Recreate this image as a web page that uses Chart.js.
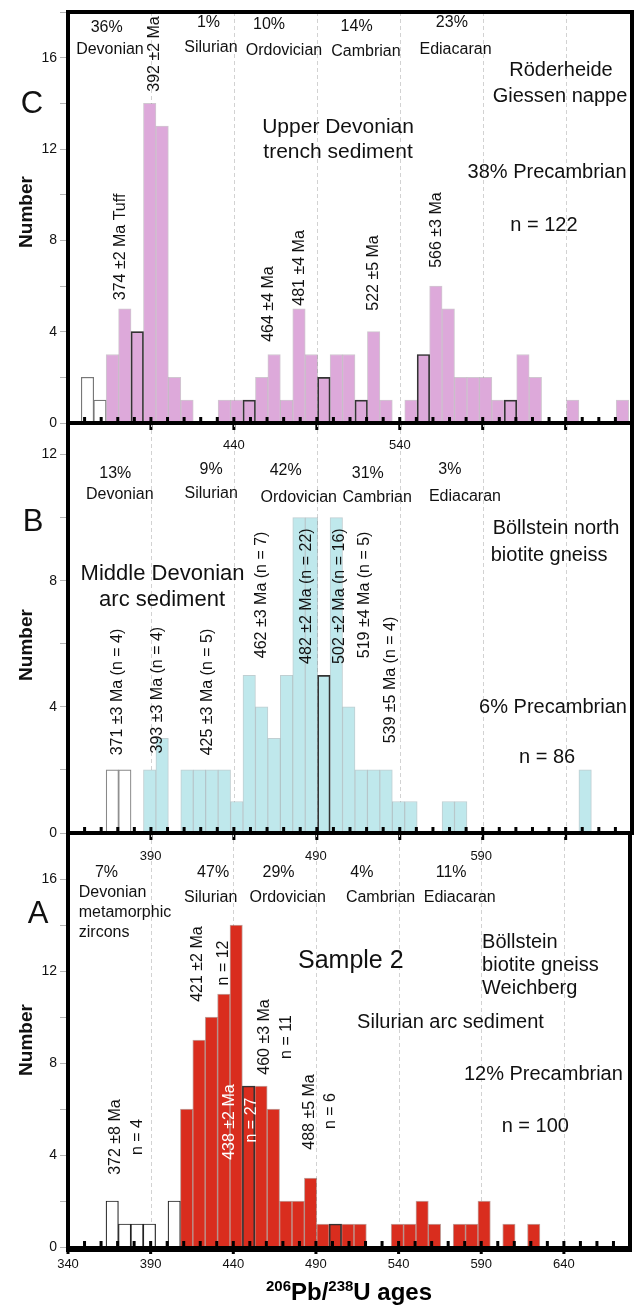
<!DOCTYPE html>
<html>
<head>
<meta charset="utf-8">
<title>U-Pb detrital zircon histograms</title>
<script src="https://cdn.jsdelivr.net/npm/chart.js@4.4.0/dist/chart.umd.min.js"></script>
<style>
  html, body { margin: 0; padding: 0; background: #fff; }
  #wrap { position: relative; width: 640px; height: 1307px; }
  #wrap canvas { position: absolute; left: 0; top: 0; }
</style>
</head>
<body>
<div id="wrap">
  <canvas id="chartC" width="640" height="1307"></canvas>
  <canvas id="chartB" width="640" height="1307"></canvas>
  <canvas id="chartA" width="640" height="1307"></canvas>
</div>
<script>
const FONT = '"Liberation Sans", Arial, Helvetica, sans-serif';

// 7.5 Ma bins, centre ages (Ma)
const binCenters = [
  351.75, 359.25, 366.75, 374.25, 381.75, 389.25, 396.75, 404.25, 411.75, 419.25,
  426.75, 434.25, 441.75, 449.25, 456.75, 464.25, 471.75, 479.25, 486.75, 494.25,
  501.75, 509.25, 516.75, 524.25, 531.75, 539.25, 546.75, 554.25, 561.75, 569.25,
  576.75, 584.25, 591.75, 599.25, 606.75, 614.25, 621.75, 629.25, 636.75, 644.25,
  651.75, 659.25, 666.75, 674.25
];

const xTickLabels = [340, 390, 440, 490, 540, 590, 640];

// C - Röderheide, Giessen nappe
const countsC = [0,0,3,5,4,14,13,2,1,0, 0,1,1,1,2,3,1,5,3,2, 3,3,1,4,1,0,1,3,6,5, 2,2,2,1,1,3,2,0,0,1, 0,0,0,1];
const openC   = [2,1,0,0,0,0,0,0,0,0, 0,0,0,0,0,0,0,0,0,0, 0,0,0,0,0,0,0,0,0,0, 0,0,0,0,0,0,0,0,0,0, 0,0,0,0];
const edgeC   = [0,0,0,0,4,0,0,0,0,0, 0,0,0,1,0,0,0,0,0,2, 0,0,1,0,0,0,0,3,0,0, 0,0,0,0,1,0,0,0,0,0, 0,0,0,0];

// B - Böllstein north
const countsB = [0,0,0,0,0,2,3,0,2,2, 2,2,1,5,4,3,5,10,10,5, 10,4,2,2,2,1,1,0,0,1, 1,0,0,0,0,0,0,0,0,0, 2,0,0,0];
const openB   = [0,0,2,2,0,0,0,0,0,0, 0,0,0,0,0,0,0,0,0,0, 0,0,0,0,0,0,0,0,0,0, 0,0,0,0,0,0,0,0,0,0, 0,0,0,0];
const edgeB   = [0,0,0,0,0,0,0,0,0,0, 0,0,0,0,0,0,0,0,0,5, 0,0,0,0,0,0,0,0,0,0, 0,0,0,0,0,0,0,0,0,0, 0,0,0,0];

// A - Böllstein, Weichberg (sample 2)
const countsA = [0,0,0,0,0,0,0,0,6,9, 10,11,14,7,7,6,2,2,3,1, 1,1,1,0,0,1,1,2,1,0, 1,1,2,0,1,0,1,0,0,0, 0,0,0,0];
const openA   = [0,0,2,1,1,1,0,2,0,0, 0,0,0,0,0,0,0,0,0,0, 0,0,0,0,0,0,0,0,0,0, 0,0,0,0,0,0,0,0,0,0, 0,0,0,0];
const edgeA   = [0,0,0,0,0,0,0,0,0,0, 0,0,0,7,0,0,0,0,0,0, 1,0,0,0,0,0,0,0,0,0, 0,0,0,0,0,0,0,0,0,0, 0,0,0,0];

const noteStyles = {
  per:    { size: 16 },
  big:    { size: 20 },
  mid:    { size: 21 },
  wide:   { size: 22 },
  bigL:   { size: 20, align: 'left' },
  left:   { size: 16, align: 'left' },
  rot:    { size: 16, rot: true },
  rotW:   { size: 16, rot: true, color: '#fff' },
  tick:   { size: 13 },
  huge:   { size: 25 },
  letter: { size: 31 },
  ylab:   { size: 19, bold: true, rot: true }
};

// [text, age (Ma), count, style]
const notesC = [
  ['36%', 363.3, 17.30, 'per'], ['Devonian', 365.3, 16.34, 'per'],
  ['1%', 424.7, 17.52, 'per'], ['Silurian', 426.2, 16.43, 'per'],
  ['10%', 461.2, 17.43, 'per'], ['Ordovician', 470.2, 16.29, 'per'],
  ['14%', 514.0, 17.35, 'per'], ['Cambrian', 519.6, 16.25, 'per'],
  ['23%', 571.4, 17.52, 'per'], ['Ediacaran', 573.6, 16.34, 'per'],
  ['392 ±2 Ma', 392.4, 16.16, 'rot'],
  ['Röderheide', 637.2, 15.46, 'big'], ['Giessen nappe', 636.6, 14.28, 'big'],
  ['Upper Devonian', 502.8, 12.97, 'mid'], ['trench sediment', 502.8, 11.87, 'mid'],
  ['38% Precambrian', 628.8, 10.95, 'big'], ['n = 122', 626.9, 8.67, 'big'],
  ['374 ±2 Ma Tuff', 372.0, 7.71, 'rot'],
  ['464 ±4 Ma', 461.2, 5.21, 'rot'], ['481 ±4 Ma', 479.9, 6.79, 'rot'],
  ['522 ±5 Ma', 524.5, 6.57, 'rot'], ['566 ±3 Ma', 562.4, 8.45, 'rot'],
  ['C', 318.3, 13.97, 'letter'], ['Number', 315.3, 9.24, 'ylab']
];

const notesB = [
  ['440', 440, 12.3, 'tick'], ['540', 540, 12.3, 'tick'],
  ['13%', 368.5, 11.41, 'per'], ['Devonian', 371.2, 10.72, 'per'],
  ['9%', 426.3, 11.51, 'per'], ['Silurian', 426.3, 10.75, 'per'],
  ['42%', 471.2, 11.48, 'per'], ['Ordovician', 479.1, 10.65, 'per'],
  ['31%', 520.7, 11.41, 'per'], ['Cambrian', 526.4, 10.65, 'per'],
  ['3%', 570.2, 11.51, 'per'], ['Ediacaran', 579.3, 10.68, 'per'],
  ['Böllstein north', 634.2, 9.67, 'big'], ['biotite gneiss', 630.0, 8.81, 'big'],
  ['Middle Devonian', 397.0, 8.21, 'wide'], ['arc sediment', 396.7, 7.39, 'wide'],
  ['371 ±3 Ma (n = 4)', 370.0, 4.47, 'rot'], ['393 ±3 Ma (n = 4)', 394.1, 4.53, 'rot'],
  ['425 ±3 Ma (n = 5)', 424.0, 4.47, 'rot'], ['462 ±3 Ma (n = 7)', 456.7, 7.55, 'rot'],
  ['482 ±2 Ma (n = 22)', 483.7, 7.51, 'rot'], ['502 ±2 Ma (n = 16)', 503.9, 7.51, 'rot'],
  ['519 ±4 Ma (n = 5)', 518.5, 7.55, 'rot'], ['539 ±5 Ma (n = 4)', 534.2, 4.85, 'rot'],
  ['6% Precambrian', 632.4, 3.99, 'big'], ['n = 86', 628.8, 2.38, 'big'],
  ['B', 318.9, 9.86, 'letter'], ['Number', 315.3, 5.96, 'ylab']
];

const notesA = [
  ['390', 390, 17.0, 'tick'], ['490', 490, 17.0, 'tick'], ['590', 590, 17.0, 'tick'],
  ['7%', 363.3, 16.26, 'per'],
  ['Devonian', 346.5, 15.39, 'left'], ['metamorphic', 346.5, 14.52, 'left'], ['zircons', 346.5, 13.65, 'left'],
  ['47%', 427.8, 16.26, 'per'], ['Silurian', 426.3, 15.17, 'per'],
  ['29%', 467.4, 16.26, 'per'], ['Ordovician', 472.9, 15.17, 'per'],
  ['4%', 517.8, 16.26, 'per'], ['Cambrian', 529.1, 15.17, 'per'],
  ['11%', 571.8, 16.26, 'per'], ['Ediacaran', 577.0, 15.17, 'per'],
  ['Böllstein', 590.5, 13.26, 'bigL'], ['biotite gneiss', 590.5, 12.26, 'bigL'], ['Weichberg', 590.5, 11.22, 'bigL'],
  ['Sample 2', 511.1, 12.43, 'huge'],
  ['Silurian arc sediment', 571.4, 9.78, 'big'],
  ['421 ±2 Ma', 418.4, 12.30, 'rot'], ['n = 12', 434.2, 12.35, 'rot'],
  ['460 ±3 Ma', 458.9, 9.13, 'rot'], ['n = 11', 472.0, 9.13, 'rot'],
  ['12% Precambrian', 627.6, 7.52, 'big'], ['n = 100', 622.7, 5.26, 'big'],
  ['372 ±8 Ma', 368.5, 4.78, 'rot'], ['n = 4', 382.4, 4.78, 'rot'],
  ['438 ±2 Ma', 437.5, 5.43, 'rotW'], ['n = 27', 451.0, 5.52, 'rotW'],
  ['488 ±5 Ma', 486.3, 5.87, 'rot'], ['n = 6', 498.9, 5.91, 'rot'],
  ['A', 321.9, 14.48, 'letter'], ['Number', 315.3, 9.0, 'ylab']
];

function toXY(arr) {
  return arr.map((v, i) => ({ x: binCenters[i], y: v }));
}

function drawXTitle(ctx, cx, baseY) {
  const parts = [['206', true], ['Pb/', false], ['238', true], ['U ages', false]];
  const fontOf = sup => 'bold ' + (sup ? 15 : 24) + 'px ' + FONT;
  let w = 0;
  parts.forEach(([t, sup]) => { ctx.font = fontOf(sup); w += ctx.measureText(t).width; });
  let px = cx - w / 2;
  ctx.fillStyle = '#000';
  ctx.textAlign = 'left';
  ctx.textBaseline = 'alphabetic';
  parts.forEach(([t, sup]) => {
    ctx.font = fontOf(sup);
    ctx.fillText(t, px, baseY - (sup ? 9 : 0));
    px += ctx.measureText(t).width;
  });
}

const panelDecor = {
  id: 'panelDecor',
  beforeDatasetsDraw(chart) {
    const { ctx, chartArea: a, scales: { x } } = chart;
    ctx.save();
    ctx.strokeStyle = '#d2d2d2';
    ctx.lineWidth = 1;
    ctx.setLineDash([4, 3]);
    xTickLabels.forEach(v => {
      if (v === 340) return;
      const px = Math.round(x.getPixelForValue(v)) + 0.5;
      ctx.beginPath();
      ctx.moveTo(px, a.top);
      ctx.lineTo(px, a.bottom);
      ctx.stroke();
    });
    ctx.restore();
  },
  afterDatasetsDraw(chart, args, o) {
    const { ctx, chartArea: a, scales: { x, y } } = chart;
    ctx.save();
    // frame and axis line
    ctx.fillStyle = '#000';
    ctx.fillRect(a.left - 2, a.top - 2, 4, a.bottom - a.top + 4);
    ctx.fillRect(a.right - 2, a.top - 2, 4, a.bottom - a.top + 4);
    ctx.fillRect(a.left - 2, a.top - 2, a.right - a.left + 4, 4);
    ctx.fillRect(a.left - 2, a.bottom - 2 + o.axisShift, a.right - a.left + 4, o.axisW);
    // age ticks on the axis
    x.ticks.forEach(t => {
      const px = x.getPixelForValue(t.value);
      if (xTickLabels.includes(t.value)) ctx.fillRect(px - 1.5, a.bottom - 6, 3, 13);
      else ctx.fillRect(px - 1.5, a.bottom - 6, 3, 5);
    });
    // text notes
    o.notes.forEach(([txt, age, n, st]) => {
      const s = noteStyles[st];
      ctx.save();
      ctx.translate(x.getPixelForValue(age), y.getPixelForValue(n));
      if (s.rot) ctx.rotate(-Math.PI / 2);
      ctx.font = (s.bold ? 'bold ' : '') + s.size + 'px ' + FONT;
      ctx.fillStyle = s.color || '#111';
      ctx.textAlign = s.align || 'center';
      ctx.textBaseline = 'middle';
      ctx.fillText(txt, 0, 0);
      ctx.restore();
    });
    if (o.xTitle) drawXTitle(ctx, (a.left + a.right) / 2, 1300);
    ctx.restore();
  }
};

function makePanel(id, p) {
  return new Chart(document.getElementById(id), {
    type: 'bar',
    data: {
      datasets: [
        { data: toXY(p.edge), backgroundColor: 'rgba(0,0,0,0)', borderColor: '#333', borderWidth: 1, order: 0 },
        { data: toXY(p.counts), backgroundColor: p.fill, borderColor: p.line, borderWidth: 1, order: 1 },
        { data: toXY(p.open), backgroundColor: '#fff', borderColor: p.openLine, borderWidth: 1.2, order: 2 }
      ]
    },
    options: {
      responsive: false,
      animation: false,
      devicePixelRatio: 1,
      layout: { padding: { top: p.top, bottom: 1307 - p.bottom - p.axisH, left: 0, right: 8 } },
      datasets: { bar: { grouped: false, barPercentage: 1, categoryPercentage: 1 } },
      plugins: {
        legend: { display: false },
        tooltip: { enabled: false },
        panelDecor: { notes: p.notes, axisW: p.axisW, axisShift: p.axisShift, xTitle: p.xTitle }
      },
      scales: {
        x: {
          type: 'linear', min: 340, max: 680, offset: false,
          afterFit(s) { s.height = p.axisH; },
          grid: { display: false, drawTicks: false, offset: false },
          border: { display: false },
          ticks: {
            display: p.xTitle, stepSize: 10, autoSkip: false, maxRotation: 0, padding: 10,
            color: '#111', font: { size: 13, family: FONT },
            callback: v => xTickLabels.includes(v) ? String(v) : ''
          }
        },
        y: {
          min: 0, max: p.yMax,
          afterFit(s) { s.width = 68; },
          grid: { drawOnChartArea: false, drawTicks: true, tickLength: 8, tickColor: '#b5b5b5', tickWidth: 1 },
          border: { display: false },
          ticks: {
            stepSize: 2, padding: 3, color: '#111', font: { size: 14, family: FONT },
            callback: v => (v % 4 === 0 ? String(v) : '')
          }
        }
      }
    },
    plugins: [panelDecor]
  });
}

makePanel('chartC', {
  counts: countsC, open: openC, edge: edgeC, notes: notesC,
  fill: '#DDA9DA', line: 'rgba(150,130,150,0.45)', openLine: '#777',
  top: 12, bottom: 423, axisH: 0, yMax: 18, axisW: 4, axisShift: 0, xTitle: false
});
makePanel('chartB', {
  counts: countsB, open: openB, edge: edgeB, notes: notesB,
  fill: '#BFE8EC', line: 'rgba(130,160,165,0.5)', openLine: '#888',
  top: 423, bottom: 833, axisH: 0, yMax: 13, axisW: 4, axisShift: 0, xTitle: false
});
makePanel('chartA', {
  counts: countsA, open: openA, edge: edgeA, notes: notesA,
  fill: '#D92D1E', line: 'rgba(120,50,40,0.45)', openLine: '#222',
  top: 833, bottom: 1247, axisH: 60, yMax: 18, axisW: 6, axisShift: 1, xTitle: true
});
</script>
</body>
</html>
